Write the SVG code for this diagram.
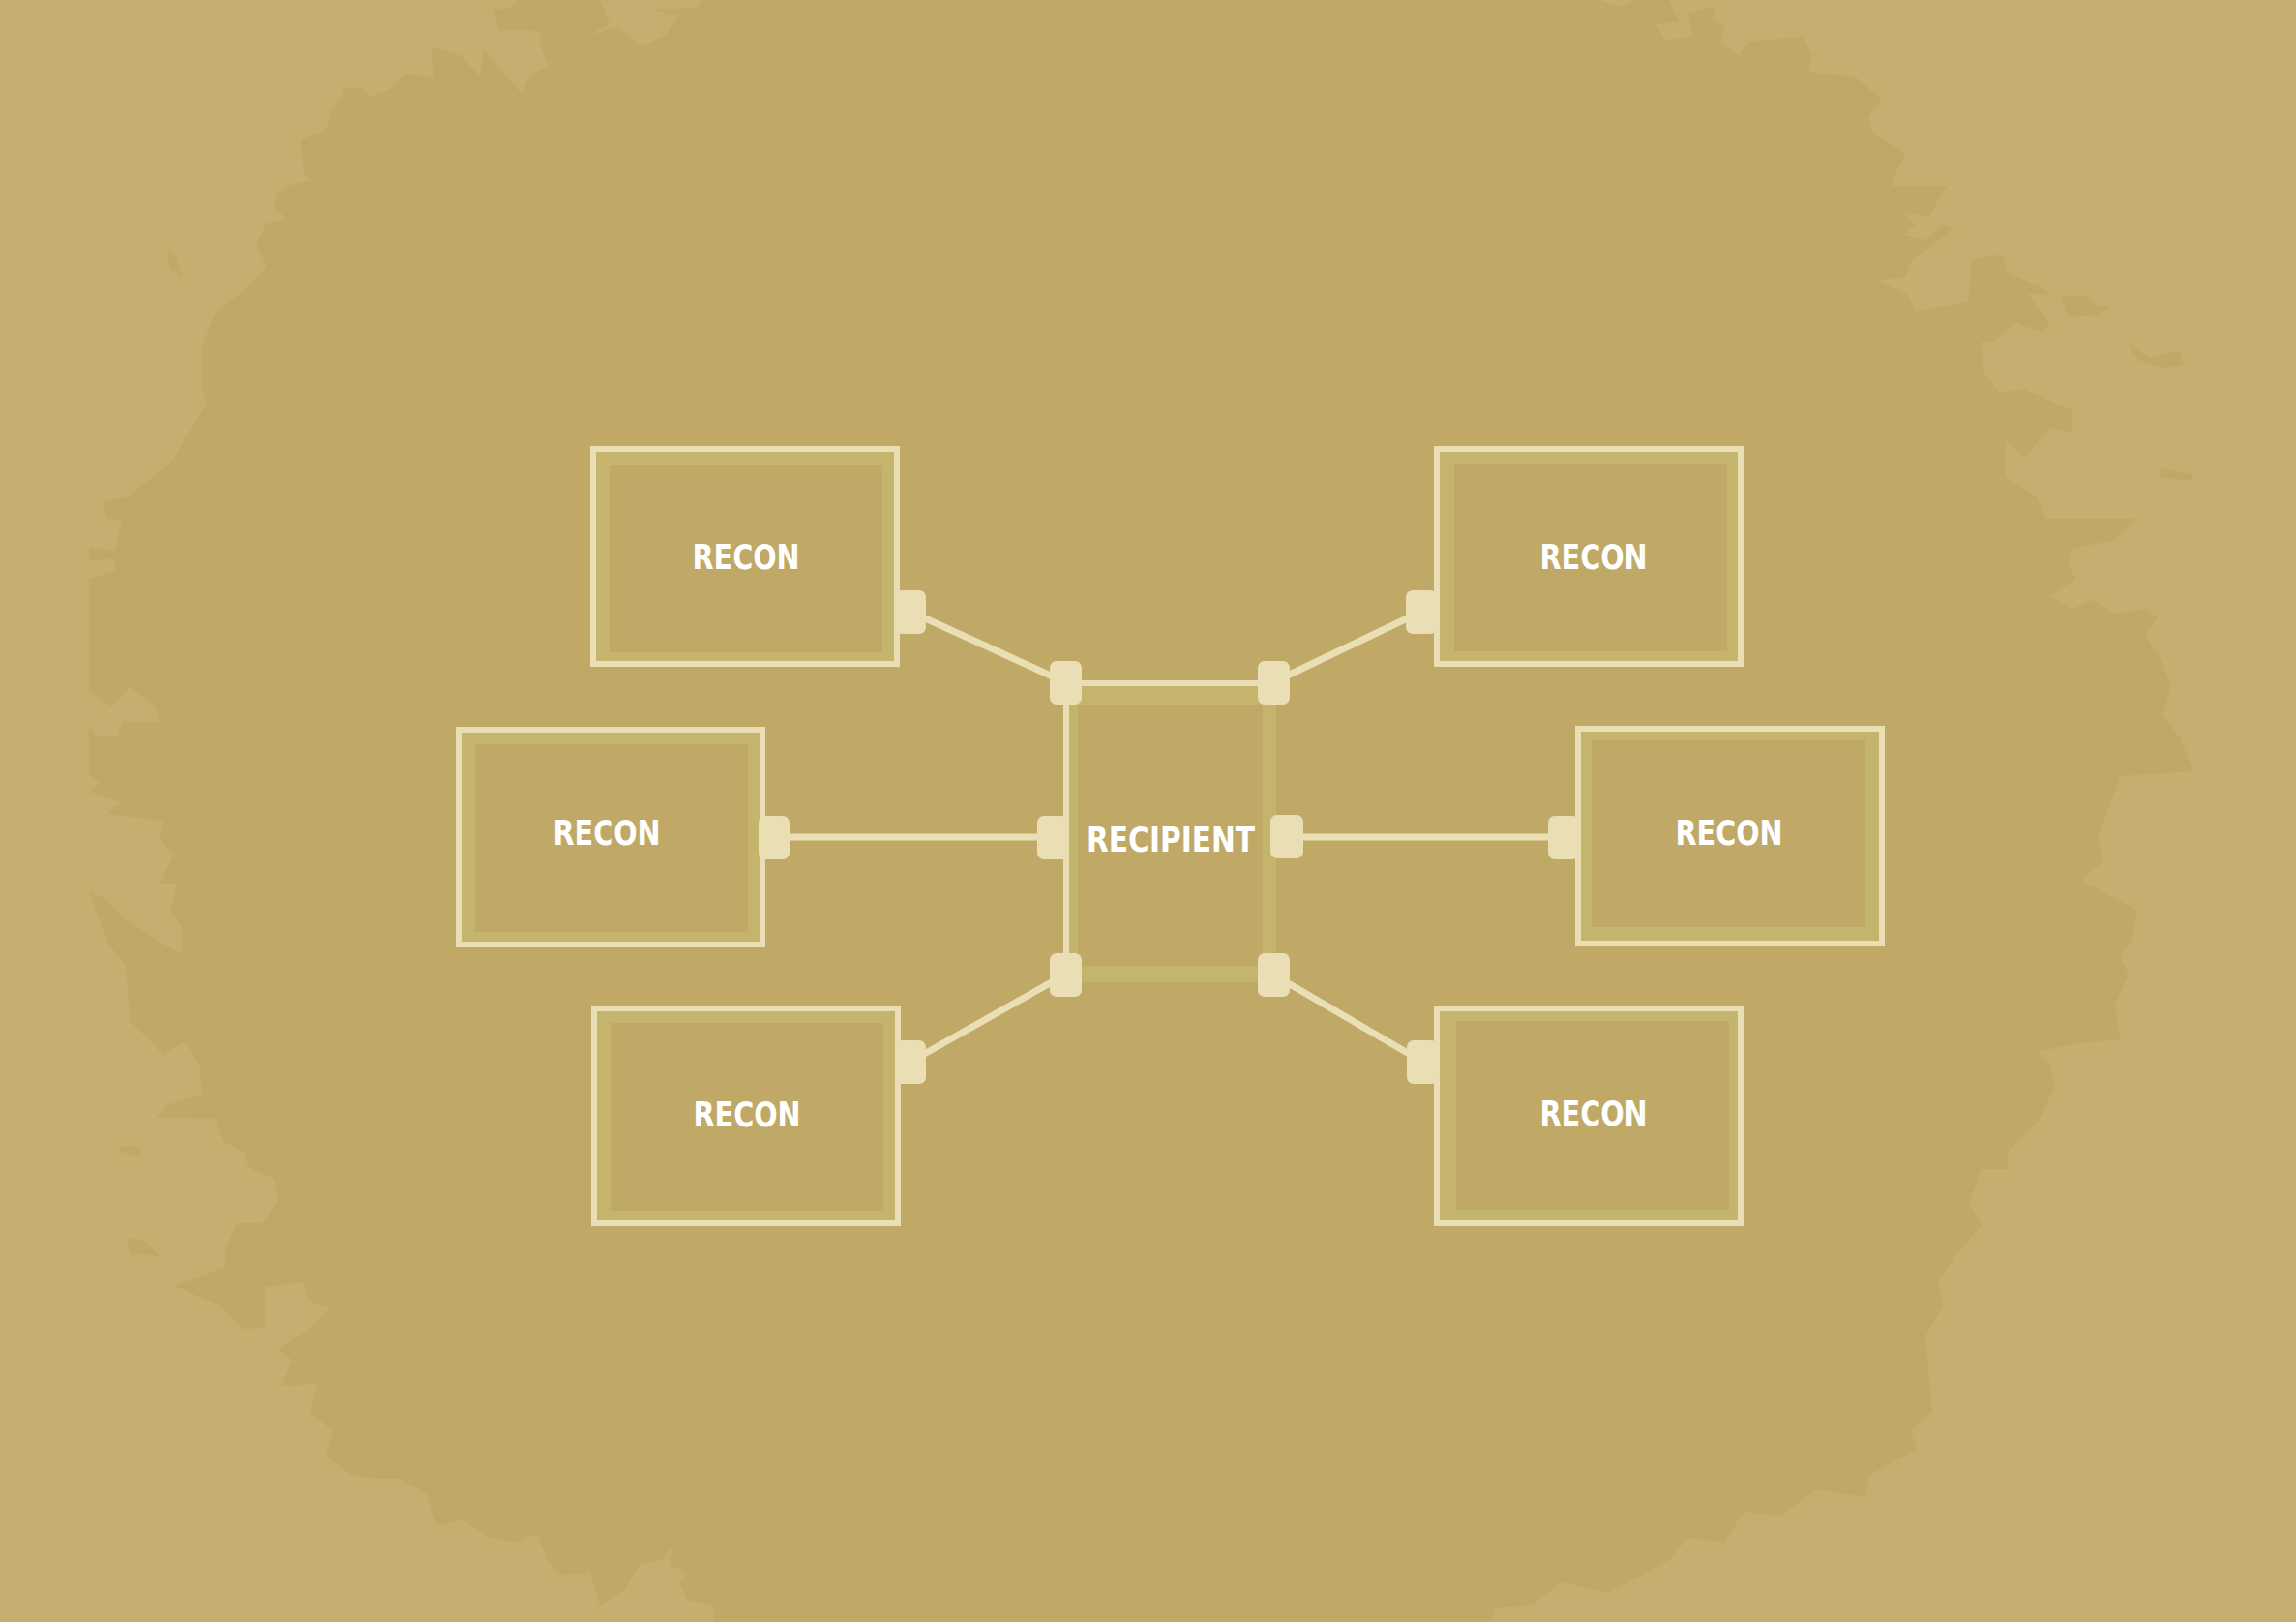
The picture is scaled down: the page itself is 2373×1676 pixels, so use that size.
<svg xmlns="http://www.w3.org/2000/svg" width="2373" height="1676" viewBox="0 0 2373 1676">
<style>
.frame{fill:none;stroke:#eadfb4;stroke-width:6}
.band{fill:#c5b46c}
.inner{fill:#c0a966}
.port{fill:#eadfb4}
.wire{stroke:#eadfb4;stroke-width:7;fill:none}
.lbl{font-family:"DejaVu Sans Condensed","DejaVu Sans",sans-serif;font-weight:bold;font-stretch:condensed;fill:#ffffff;text-anchor:middle}
.lite{fill:#c4af71}
.dark{fill:#c0a866}
</style>
<rect x="0" y="0" width="2373" height="1676" class="lite"/>
<path class="dark" d="M725 0 L1654 0 L1673 7 L1692 0 L1725 0 L1735 23 L1711 25 L1721 42 L1749 37 L1745 13 L1773 7 L1769 20 L1783 27 L1778 43 L1797 57 L1807 43 L1864 38 L1873 58 L1869 74 L1918 80 L1945 103 L1931 121 L1936 138 L1969 158 L1954 192 L2012 192 L1994 223 L1967 219 L1980 232 L1967 243 L1991 248 L2007 232 L2020 237 L1976 268 L1969 286 L1940 290 L1971 304 L1980 321 L2034 312 L2038 268 L2070 263 L2074 281 L2105 295 L2119 304 L2096 304 L2119 335 L2110 344 L2083 333 L2061 353 L2047 353 L2052 388 L2067 406 L2092 402 L2141 424 L2141 446 L2119 442 L2092 473 L2072 455 L2072 493 L2105 513 L2114 536 L2208 536 L2186 558 L2141 567 L2137 580 L2145 598 L2119 616 L2141 629 L2163 620 L2186 634 L2217 629 L2230 638 L2217 656 L2231 677 L2244 708 L2235 739 L2253 762 L2267 797 L2191 802 L2182 829 L2168 864 L2173 891 L2151 909 L2173 922 L2209 940 L2204 971 L2191 989 L2200 1007 L2186 1038 L2191 1074 L2142 1079 L2106 1087 L2119 1101 L2124 1123 L2106 1159 L2075 1190 L2075 1208 L2048 1208 L2035 1244 L2048 1266 L2021 1297 L2003 1324 L2008 1350 L1990 1380 L1997 1459 L1974 1478 L1982 1497 L1932 1524 L1928 1547 L1878 1539 L1840 1566 L1802 1562 L1783 1593 L1744 1589 L1725 1612 L1691 1631 L1660 1646 L1614 1635 L1584 1658 L1545 1662 L1542 1676 L738 1676 L738 1659 L710 1653 L702 1636 L710 1626 L692 1616 L697 1596 L682 1613 L661 1616 L646 1643 L620 1659 L610 1624 L600 1626 L578 1627 L566 1612 L555 1585 L532 1593 L505 1589 L478 1570 L452 1577 L440 1543 L413 1528 L387 1528 L364 1524 L337 1505 L344 1478 L320 1459 L329 1430 L291 1432 L302 1405 L287 1394 L318 1374 L341 1352 L318 1344 L314 1325 L274 1330 L274 1371 L253 1374 L226 1348 L180 1329 L233 1309 L233 1290 L245 1264 L272 1264 L287 1241 L283 1218 L256 1206 L253 1191 L230 1179 L222 1156 L161 1155 L172 1142 L209 1130 L207 1103 L191 1076 L168 1090 L150 1070 L134 1055 L130 998 L112 975 L92 921 L92 818 L103 810 L92 800 L92 749 L100 762 L122 760 L126 745 L165 747 L161 730 L134 710 L115 730 L92 714 L92 598 L119 590 L119 577 L92 580 L92 565 L119 569 L126 538 L111 534 L107 519 L133 513 L179 475 L194 448 L214 417 L209 402 L209 356 L224 321 L245 306 L276 276 L265 253 L276 230 L296 226 L283 214 L286 199 L301 191 L321 186 L314 180 L311 145 L337 134 L342 115 L357 92 L372 90 L383 100 L403 92 L418 77 L449 80 L446 48 L477 58 L486 68 L496 78 L500 53 L510 63 L539 97 L548 77 L567 68 L558 47 L558 32 L515 30 L510 10 L529 8 L534 0 L620 0 L630 25 L606 37 L639 28 L663 47 L687 37 L701 17 L678 10 L721 8 Z"/>
<path class="lite" d="M92 818 L126 829 L111 841 L168 848 L165 867 L180 883 L165 913 L184 913 L176 940 L188 959 L188 986 L160 970 L130 950 L110 930 L92 921 Z"/>
<path class="dark" d="M2130 306 L2158 306 L2168 316 L2181 318 L2166 326 L2137 328 Z M2199 355 L2222 370 L2242 364 L2252 362 L2257 378 L2232 380 L2210 372 Z M2232 484 L2266 490 L2265 496 L2232 494 Z M122 1185 L145 1184 L145 1195 L124 1190 Z M130 1279 L150 1282 L165 1298 L134 1295 Z M173 260 L180 262 L189 285 L176 278 Z"/>
<g id="connectors">
<line class="wire" x1="941" y1="632" x2="1101" y2="705"/>
<line class="wire" x1="800" y1="865" x2="1088" y2="865"/>
<line class="wire" x1="941" y1="1097" x2="1101" y2="1007"/>
<line class="wire" x1="1316" y1="705" x2="1469" y2="632"/>
<line class="wire" x1="1330" y1="865" x2="1616" y2="865"/>
<line class="wire" x1="1316" y1="1007" x2="1470" y2="1097"/>
</g>
<g id="recon-top-left">
<rect class="frame" x="613" y="464" width="314" height="222"/>
<rect class="band" x="616" y="467" width="308" height="216"/>
<rect class="inner" x="630" y="480" width="282" height="194"/>
<text class="lbl" x="771" y="588" font-size="35" textLength="111" lengthAdjust="spacingAndGlyphs">RECON</text>
<rect class="port" x="925" y="610" width="32" height="45" rx="7"/>
</g>
<g id="recon-mid-left">
<rect class="frame" x="474" y="754" width="314" height="222"/>
<rect class="band" x="477" y="757" width="308" height="216"/>
<rect class="inner" x="491" y="769" width="282" height="194"/>
<text class="lbl" x="627" y="873" font-size="35" textLength="111" lengthAdjust="spacingAndGlyphs">RECON</text>
<rect class="port" x="784" y="843" width="32" height="45" rx="7"/>
</g>
<g id="recon-bottom-left">
<rect class="frame" x="614" y="1042" width="314" height="222"/>
<rect class="band" x="617" y="1045" width="308" height="216"/>
<rect class="inner" x="631" y="1057" width="282" height="194"/>
<text class="lbl" x="772" y="1164" font-size="35" textLength="111" lengthAdjust="spacingAndGlyphs">RECON</text>
<rect class="port" x="925" y="1075" width="32" height="45" rx="7"/>
</g>
<g id="recon-top-right">
<rect class="frame" x="1485" y="464" width="314" height="222"/>
<rect class="band" x="1488" y="467" width="308" height="216"/>
<rect class="inner" x="1503" y="479" width="282" height="194"/>
<text class="lbl" x="1647" y="588" font-size="35" textLength="111" lengthAdjust="spacingAndGlyphs">RECON</text>
<rect class="port" x="1453" y="610" width="32" height="45" rx="7"/>
</g>
<g id="recon-mid-right">
<rect class="frame" x="1631" y="753" width="314" height="222"/>
<rect class="band" x="1634" y="756" width="308" height="216"/>
<rect class="inner" x="1645" y="765" width="283" height="193"/>
<text class="lbl" x="1787" y="873" font-size="35" textLength="111" lengthAdjust="spacingAndGlyphs">RECON</text>
<rect class="port" x="1600" y="843" width="32" height="45" rx="7"/>
</g>
<g id="recon-bottom-right">
<rect class="frame" x="1485" y="1042" width="314" height="222"/>
<rect class="band" x="1488" y="1045" width="308" height="216"/>
<rect class="inner" x="1505" y="1055" width="282" height="195"/>
<text class="lbl" x="1647" y="1163" font-size="35" textLength="111" lengthAdjust="spacingAndGlyphs">RECON</text>
<rect class="port" x="1454" y="1075" width="32" height="45" rx="7"/>
</g>
<g id="recipient">
<rect class="frame" x="1102" y="706" width="214" height="306"/>
<rect class="band" x="1105" y="709" width="214" height="306"/>
<rect class="inner" x="1114" y="728" width="191" height="270"/>
<text class="lbl" x="1210" y="880" font-size="36" textLength="174" lengthAdjust="spacingAndGlyphs">RECIPIENT</text>
<rect class="port" x="1085" y="683" width="33" height="45" rx="7"/>
<rect class="port" x="1300" y="683" width="33" height="45" rx="7"/>
<rect class="port" x="1072" y="843" width="33" height="45" rx="7"/>
<rect class="port" x="1313" y="842" width="34" height="45" rx="7"/>
<rect class="port" x="1085" y="985" width="33" height="45" rx="7"/>
<rect class="port" x="1300" y="985" width="33" height="45" rx="7"/>
</g>
</svg>
